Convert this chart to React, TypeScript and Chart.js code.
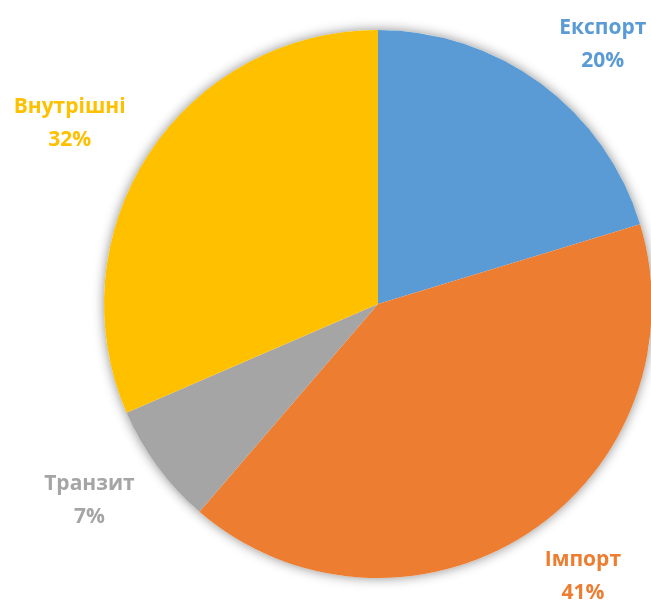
import React, { useEffect, useRef } from "react";
import { Chart, registerables } from "chart.js";

Chart.register(...registerables);

const categories = ["Експорт", "Імпорт", "Транзит", "Внутрішні"];
const values = [20.3, 41.0, 7.2, 31.5];
const percentLabels = ["20%", "41%", "7%", "32%"];
const colors = ["#5B9BD5", "#ED7D31", "#A5A5A5", "#FFC000"];

const FONT = "bold 21px 'Open Sans', 'Noto Sans', sans-serif";

const shadowPlugin = {
  id: "pieShadow",
  beforeDatasetsDraw(chart: any) {
    const meta = chart.getDatasetMeta(0);
    const arc = meta.data[0];
    if (!arc) return;
    const { x, y, outerRadius } = arc.getProps(["x", "y", "outerRadius"], true);
    const ctx = chart.ctx;
    ctx.save();
    ctx.shadowColor = "rgba(0,0,0,0.45)";
    ctx.shadowBlur = 12;
    ctx.shadowOffsetX = 0;
    ctx.shadowOffsetY = 0;
    ctx.fillStyle = "#ffffff";
    ctx.beginPath();
    ctx.arc(x, y, outerRadius, 0, Math.PI * 2);
    ctx.fill();
    ctx.restore();
  },
};

const labelPlugin = {
  id: "outsideLabels",
  afterDatasetsDraw(chart: any) {
    const ctx = chart.ctx;
    const meta = chart.getDatasetMeta(0);
    ctx.save();
    ctx.font = FONT;
    ctx.textAlign = "center";
    ctx.textBaseline = "alphabetic";
    meta.data.forEach((el: any, i: number) => {
      const { x, y, startAngle, endAngle, outerRadius } = el.getProps(
        ["x", "y", "startAngle", "endAngle", "outerRadius"],
        true
      );
      const mid = (startAngle + endAngle) / 2;
      const dx = Math.cos(mid);
      const dy = Math.sin(mid);
      const gap = 22;
      const px = x + dx * (outerRadius + gap);
      const py = y + dy * (outerRadius + gap);
      const l1 = categories[i];
      const l2 = percentLabels[i];
      const w = Math.max(ctx.measureText(l1).width, ctx.measureText(l2).width);
      const h = 52;
      const cx = px + Math.sign(dx) * (w / 2 + 5);
      const cy = py + Math.sign(dy) * (h / 2 - 15 * (1 - Math.abs(dy)));
      const top = cy - h / 2;
      ctx.fillStyle = colors[i];
      ctx.fillText(l1, cx, top + 17);
      ctx.fillText(l2, cx, top + 50);
    });
    ctx.restore();
  },
};

export default function App() {
  const canvasRef = useRef<HTMLCanvasElement | null>(null);

  useEffect(() => {
    if (!canvasRef.current) return;
    const chart = new Chart(canvasRef.current, {
      type: "pie",
      data: {
        labels: categories,
        datasets: [
          {
            data: values,
            backgroundColor: colors,
            borderWidth: 0,
            hoverOffset: 0,
          },
        ],
      },
      options: {
        responsive: false,
        animation: false,
        layout: { padding: { top: 30, bottom: 30, left: 104, right: 108 } },
        plugins: {
          legend: { display: false },
          tooltip: { enabled: false },
        },
      },
      plugins: [shadowPlugin, labelPlugin],
    });
    return () => chart.destroy();
  }, []);

  return (
    <div
      style={{
        position: "absolute",
        left: 0,
        top: 0,
        width: 651,
        height: 608,
        overflow: "hidden",
        background: "#ffffff",
      }}
    >
      <canvas ref={canvasRef} width={760} height={608} style={{ display: "block" }} />
    </div>
  );
}
